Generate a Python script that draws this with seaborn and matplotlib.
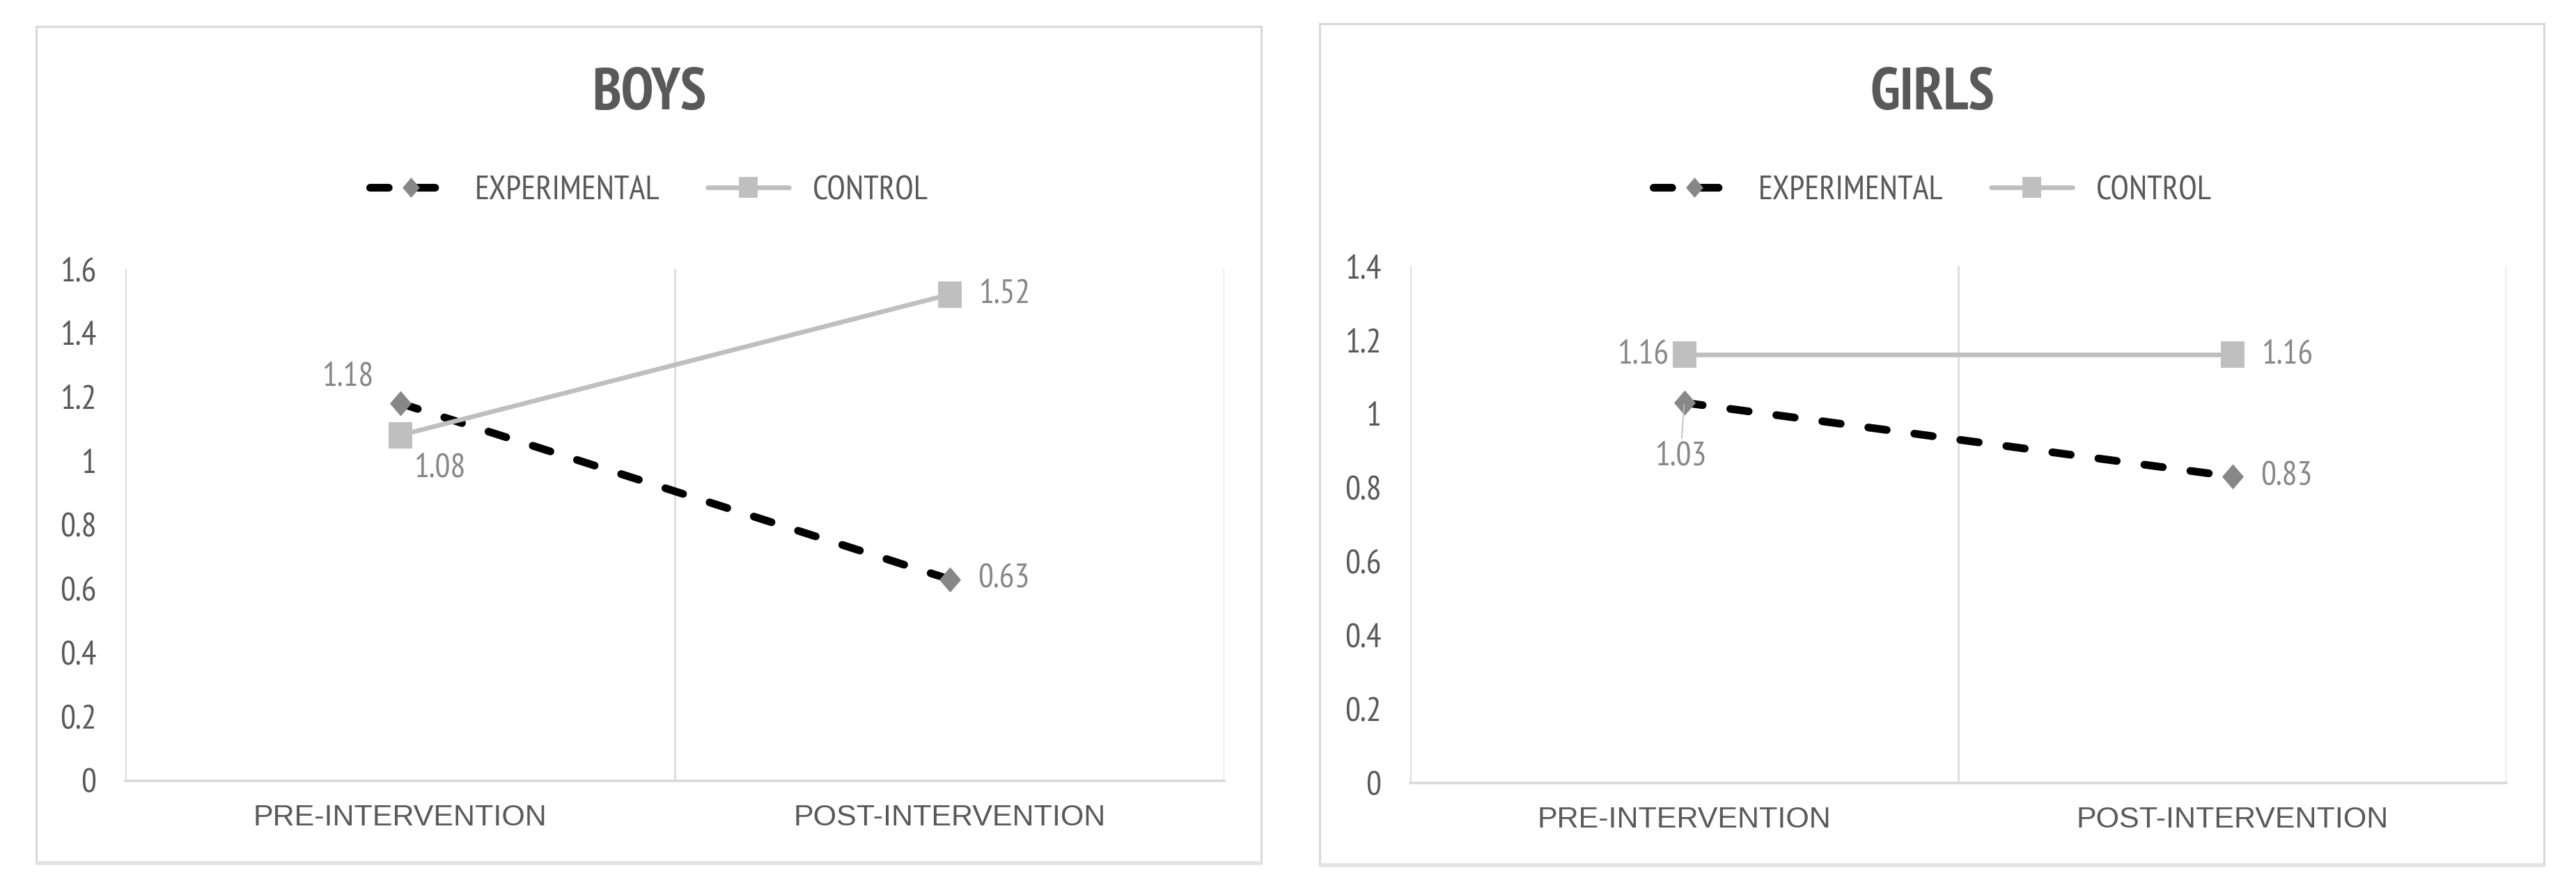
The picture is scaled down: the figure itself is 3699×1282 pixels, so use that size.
import pandas as pd
import seaborn as sns
from matplotlib import pyplot as plt
from matplotlib.patches import Rectangle

# values
phases = ["PRE-INTERVENTION", "POST-INTERVENTION"]
groups = ["EXPERIMENTAL", "CONTROL"]
boys_experimental = [1.18, 0.63]
boys_control = [1.08, 1.52]
girls_experimental = [1.03, 0.83]
girls_control = [1.16, 1.16]
boys_ticks = [0, 0.2, 0.4, 0.6, 0.8, 1, 1.2, 1.4, 1.6]
girls_ticks = [0, 0.2, 0.4, 0.6, 0.8, 1, 1.2, 1.4]

sns.set_theme(style="white")
plt.rcParams["font.family"] = ["PT Sans Narrow", "DejaVu Sans"]

W, H = 3699, 1282
TEXT = "#595959"
LABEL = "#878787"
GRID = "#dedede"
DIAMOND = [(0, 1), (0.86, 0), (0, -1), (-0.86, 0)]
SQUARE = [(-0.9, -1), (0.9, -1), (0.9, 1), (-0.9, 1)]

styles = {
    "EXPERIMENTAL": dict(color="black", lw=8, ls=(0, (2.4, 3.6)), dash_capstyle="round",
                         marker=DIAMOND, markersize=26, markerfacecolor="#878787",
                         markeredgecolor="#878787", markeredgewidth=0),
    "CONTROL": dict(color="#bfbfbf", lw=4.8, marker=SQUARE, markersize=27,
                    markerfacecolor="#bfbfbf", markeredgecolor="#bfbfbf", markeredgewidth=0),
}


def frame(x0, y0, x1, y1):
    return [x0 / W, 1 - y1 / H, (x1 - x0) / W, (y1 - y0) / H]


def long_table(exp, ctrl):
    rows = []
    for g, vals in zip(groups, [exp, ctrl]):
        for p, v in zip(phases, vals):
            rows.append({"phase": p, "group": g, "value": v})
    return pd.DataFrame(rows)


panels = [
    dict(title="BOYS", data=long_table(boys_experimental, boys_control), ticks=boys_ticks,
         box=(52, 38, 1811, 1239), axes=(180, 386, 1758, 1121), center=932,
         # (group, phase index) -> (dx, dy in points, ha, leader line)
         labels={("EXPERIMENTAL", 0): (-54, 27, "center", False),
                 ("CONTROL", 0): (41, -34, "center", False),
                 ("CONTROL", 1): (30, 0, "left", False),
                 ("EXPERIMENTAL", 1): (29, 0, "left", False)}),
    dict(title="GIRLS", data=long_table(girls_experimental, girls_control), ticks=girls_ticks,
         box=(1895, 34, 3653, 1242), axes=(2025, 382, 3599, 1124), center=2775,
         labels={("EXPERIMENTAL", 0): (-4, -56, "center", True),
                 ("CONTROL", 0): (-16, 0, "right", False),
                 ("CONTROL", 1): (30, 0, "left", False),
                 ("EXPERIMENTAL", 1): (29, 0, "left", False)}),
]

fig = plt.figure(figsize=(W / 100, H / 100), dpi=100)

for panel in panels:
    bx0, by0, bx1, by1 = panel["box"]
    fig.add_artist(Rectangle((bx0 / W, 1 - by1 / H), (bx1 - bx0) / W, (by1 - by0) / H,
                             transform=fig.transFigure, fill=False, ec="#d9d9d9", lw=2.2))
    fig.add_artist(Rectangle((bx0 / W, 1 - by1 / H), (bx1 - bx0) / W, 0,
                             transform=fig.transFigure, fill=False, ec="#e3e3e3", lw=4))

    ax = fig.add_axes(frame(*panel["axes"]))
    df = panel["data"]
    for g in groups:
        sub = df[df["group"] == g]
        sns.lineplot(data=sub, x="phase", y="value", ax=ax, sort=False, errorbar=None,
                     label=g, **styles[g])

    ax.set_xlim(-0.5, 1.5)
    ax.set_ylim(0, panel["ticks"][-1])
    ax.set_yticks(panel["ticks"])
    ax.set_yticklabels([f"{t:g}" for t in panel["ticks"]])
    ax.set_xticks(range(len(phases)))
    ax.set_xticklabels(phases, fontfamily=["Liberation Sans", "DejaVu Sans"])
    ax.set_xticks([-0.5, 0.5, 1.5], minor=True)
    ax.tick_params(axis="y", length=0, pad=30, labelsize=35, labelcolor=TEXT)
    ax.tick_params(axis="x", which="both", length=0, pad=24, labelsize=31, labelcolor=TEXT)
    ax.grid(False)
    ax.grid(axis="x", which="minor", color=GRID, lw=2.2)
    ax.set_xlabel("")
    ax.set_ylabel("")
    for side in ["left", "top", "right"]:
        ax.spines[side].set_visible(False)
    ax.spines["bottom"].set_color("#d9d9d9")
    ax.spines["bottom"].set_linewidth(2.6)

    for (g, i), (dx, dy, ha, leader) in panel["labels"].items():
        val = df[(df["group"] == g) & (df["phase"] == phases[i])]["value"].iloc[0]
        ax.annotate(f"{val:g}", xy=(i, val), xytext=(dx, dy), textcoords="offset points",
                    ha=ha, va="center", fontsize=35, color=LABEL,
                    arrowprops=dict(arrowstyle="-", color="#bfbfbf", lw=1.3,
                                    shrinkA=1, shrinkB=2) if leader else None)

    fig.text(panel["center"] / W, 1 - 136 / H, panel["title"], ha="center", va="center",
             fontsize=61, fontweight="bold", color=TEXT)

    handles, labels = ax.get_legend_handles_labels()
    ax.legend(handles, labels, loc="center", bbox_to_anchor=(panel["center"] / W, 1 - 274 / H),
              bbox_transform=fig.transFigure, ncol=2, frameon=False, fontsize=35,
              labelcolor=TEXT, handlelength=2.4, handletextpad=0.7, columnspacing=1.4,
              markerscale=0.8)

fig.savefig("out.png", dpi=100, facecolor="white")
